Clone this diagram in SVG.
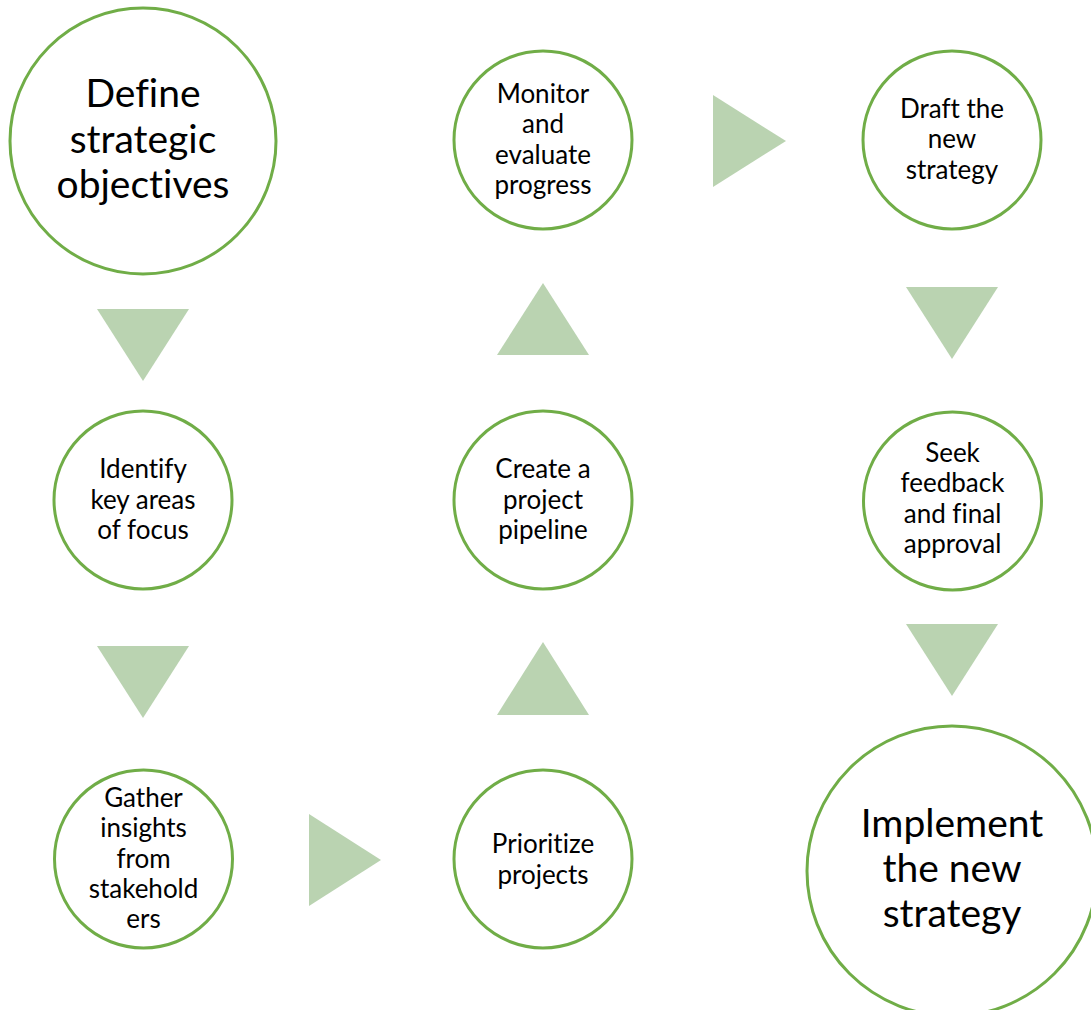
<svg xmlns="http://www.w3.org/2000/svg" width="1091" height="1010" viewBox="0 0 1091 1010">
  <style>
    .node { fill: #ffffff; stroke: #70AD47; stroke-width: 3; }
    .arrow { fill: #BAD3B1; stroke: none; }
    .label { font-family: Lato, "Open Sans", "Liberation Sans", sans-serif; fill: #000000; text-anchor: middle; font-variant-ligatures: none; font-feature-settings: "liga" 0, "dlig" 0; }
    .sm { font-size: 26px; }
    .lg { font-size: 39px; }
  </style>
  <rect width="1091" height="1010" fill="#ffffff"/>

  <!-- flow arrows -->
  <g id="connectors">
    <polygon class="arrow" points="97,309 189,309 143,381"/>
    <polygon class="arrow" points="97,646 189,646 143,718"/>
    <polygon class="arrow" points="309,814 309,906 381,860"/>
    <polygon class="arrow" points="497,715 589,715 543,642"/>
    <polygon class="arrow" points="497,355 589,355 543,283"/>
    <polygon class="arrow" points="713,95 713,187 786,141"/>
    <polygon class="arrow" points="906,287 998,287 952,359"/>
    <polygon class="arrow" points="906,624 998,624 952,696"/>
  </g>

  <g id="define">
    <circle class="node" cx="143" cy="141" r="133"/>
    <text class="label lg"><tspan x="143" y="107">Define</tspan><tspan x="143" y="153">strategic</tspan><tspan x="143" y="198">objectives</tspan></text>
  </g>

  <g id="identify">
    <circle class="node" cx="143" cy="500" r="89"/>
    <text class="label sm"><tspan x="143" y="478">Identify</tspan><tspan x="143" y="509">key areas</tspan><tspan x="143" y="539">of focus</tspan></text>
  </g>

  <g id="gather">
    <circle class="node" cx="143.5" cy="859" r="89"/>
    <text class="label sm"><tspan x="143.5" y="807">Gather</tspan><tspan x="143.5" y="837">insights</tspan><tspan x="143.5" y="868">from</tspan><tspan x="143.5" y="898">stakehold</tspan><tspan x="143.5" y="928">ers</tspan></text>
  </g>

  <g id="prioritize">
    <circle class="node" cx="543" cy="859" r="89"/>
    <text class="label sm"><tspan x="543" y="853">Prioritize</tspan><tspan x="543" y="884">projects</tspan></text>
  </g>

  <g id="pipeline">
    <circle class="node" cx="543" cy="500" r="89"/>
    <text class="label sm"><tspan x="543" y="478">Create a</tspan><tspan x="543" y="509">project</tspan><tspan x="543" y="539">pipeline</tspan></text>
  </g>

  <g id="monitor">
    <circle class="node" cx="543" cy="140" r="89"/>
    <text class="label sm"><tspan x="543" y="103">Monitor</tspan><tspan x="543" y="133">and</tspan><tspan x="543" y="164">evaluate</tspan><tspan x="543" y="194">progress</tspan></text>
  </g>

  <g id="draft">
    <circle class="node" cx="952" cy="140" r="89"/>
    <text class="label sm"><tspan x="952" y="118">Draft the</tspan><tspan x="952" y="148">new</tspan><tspan x="952" y="179">strategy</tspan></text>
  </g>

  <g id="feedback">
    <circle class="node" cx="952.5" cy="501" r="89"/>
    <text class="label sm"><tspan x="952.5" y="462">Seek</tspan><tspan x="952.5" y="492">feedback</tspan><tspan x="952.5" y="523">and final</tspan><tspan x="952.5" y="553">approval</tspan></text>
  </g>

  <g id="implement">
    <circle class="node" cx="952" cy="871" r="145"/>
    <text class="label lg"><tspan x="952" y="837">Implement</tspan><tspan x="952" y="882">the new</tspan><tspan x="952" y="927">strategy</tspan></text>
  </g>
</svg>
